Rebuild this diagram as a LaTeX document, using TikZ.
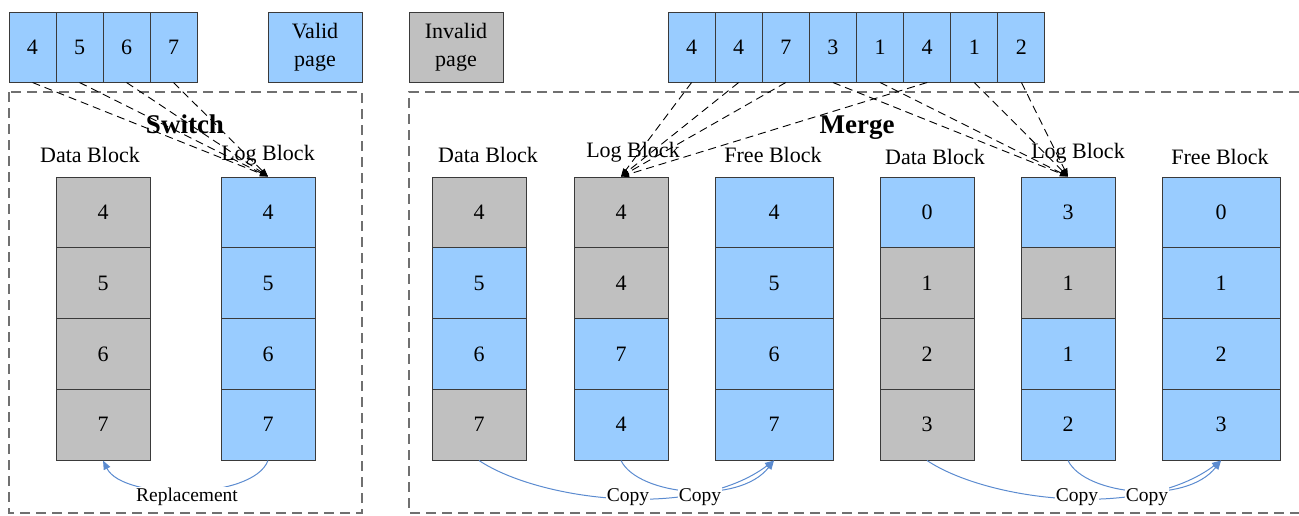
\documentclass[tikz,border=0pt]{standalone}
\usepackage{fontspec}
\setmainfont{Liberation Serif}
\usetikzlibrary{arrows.meta}
\definecolor{validblue}{HTML}{99CCFF}
\definecolor{invalidgray}{HTML}{C0C0C0}
\definecolor{cellline}{HTML}{3A3A3A}
\definecolor{framegray}{HTML}{707070}
\definecolor{copyblue}{HTML}{5B8BD0}
\begin{document}
\begin{tikzpicture}[x=1pt,y=-1pt,
  cell/.style={draw=cellline, line width=1pt, inner sep=0pt,
    minimum width=94pt, minimum height=70.75pt,
    font=\fontsize{22}{26}\selectfont},
  wide/.style={minimum width=118pt},
  pagecell/.style={cell, minimum width=47pt, minimum height=70pt, fill=validblue},
  legend/.style={cell, minimum height=70pt, align=center,
    font=\fontsize{22}{28}\selectfont},
  blocklabel/.style={font=\fontsize{22}{26}\selectfont, inner sep=1pt},
  title/.style={font=\fontsize{27}{30}\selectfont\bfseries, inner sep=1pt},
  frame/.style={draw=framegray, line width=1.4pt, dash pattern=on 10pt off 6pt},
  ptr/.style={draw=black, line width=0.9pt, dash pattern=on 8pt off 5pt,
    -{Triangle[length=8pt,width=6pt]}},
  copyline/.style={draw=copyblue, line width=1pt,
    -{Triangle[length=9pt,width=7pt]}},
  curveonly/.style={draw=copyblue, line width=1pt},
  tag/.style={font=\fontsize{19.5}{22}\selectfont, fill=white, inner sep=1pt}
]
\useasboundingbox (0,0) rectangle (1299,515);

% dashed frames of the two operations
\draw[frame] (9,92) rectangle (362,513);
\draw[frame] (1299,92) -- (409,92) -- (409,513) -- (1299,513);

% page sequences written to the log blocks
\foreach \v [count=\i] in {4,5,6,7}
  \node[pagecell] (s\i) at ({9+47*(\i-0.5)},47) {\v};
\foreach \v [count=\i] in {4,4,7,3,1,4,1,2}
  \node[pagecell] (m\i) at ({668+47.125*(\i-0.5)},47) {\v};

% legend
\node[legend, fill=validblue] (valid) at (315,47) {Valid\\page};
\node[legend, fill=invalidgray] (invalid) at (456,47) {Invalid\\page};

% titles and block labels
\node[title] (switch) at (185,124) {Switch};
\node[title] (merge) at (857,128) {Merge};
\node[blocklabel] (ldatal) at (90,155) {Data Block};
\node[blocklabel] (llogl) at (268,155) {Log Block};
\node[blocklabel] (adatal) at (488,155) {Data Block};
\node[blocklabel] (alogl) at (633,152) {Log Block};
\node[blocklabel] (afreel) at (773,155) {Free Block};
\node[blocklabel] (bdatal) at (935,157) {Data Block};
\node[blocklabel] (blogl) at (1078,153) {Log Block};
\node[blocklabel] (bfreel) at (1220,157) {Free Block};

% switch blocks
\foreach \v [count=\i] in {4,5,6,7}
  \node[cell, fill=invalidgray] (ld\i) at (103,{177+70.75*(\i-0.5)}) {\v};
\foreach \v [count=\i] in {4,5,6,7}
  \node[cell, fill=validblue] (ll\i) at (268,{177+70.75*(\i-0.5)}) {\v};

% first merge
\foreach \v/\c [count=\i] in {4/invalidgray,5/validblue,6/validblue,7/invalidgray}
  \node[cell, fill=\c] (ad\i) at (479,{177+70.75*(\i-0.5)}) {\v};
\foreach \v/\c [count=\i] in {4/invalidgray,4/invalidgray,7/validblue,4/validblue}
  \node[cell, fill=\c] (al\i) at (621,{177+70.75*(\i-0.5)}) {\v};
\foreach \v [count=\i] in {4,5,6,7}
  \node[cell, wide, fill=validblue] (af\i) at (774,{177+70.75*(\i-0.5)}) {\v};

% second merge
\foreach \v/\c [count=\i] in {0/validblue,1/invalidgray,2/invalidgray,3/invalidgray}
  \node[cell, fill=\c] (bd\i) at (927,{177+70.75*(\i-0.5)}) {\v};
\foreach \v/\c [count=\i] in {3/validblue,1/invalidgray,1/validblue,2/validblue}
  \node[cell, fill=\c] (bl\i) at (1068,{177+70.75*(\i-0.5)}) {\v};
\foreach \v [count=\i] in {0,1,2,3}
  \node[cell, wide, fill=validblue] (bf\i) at (1221,{177+70.75*(\i-0.5)}) {\v};

% writes into the log blocks
\foreach \s in {s1,s2,s3,s4}
  \draw[ptr] (\s.south) -- (ll1.north);
\foreach \s in {m1,m2,m3,m6}
  \draw[ptr] (\s.south) -- (al1.north);
\foreach \s in {m4,m5,m7,m8}
  \draw[ptr] (\s.south) -- (bl1.north);

% replacement and copy paths
\draw[copyline] (ll4.south) .. controls +(-15,40) and +(20,40) .. (ld4.south);
\draw[copyline] (ad4.south) .. controls +(60,40) and +(-80,60) .. (af4.south);
\draw[copyline] (al4.south) .. controls +(17,35) and +(-35,45) .. (af4.south);
\draw[copyline] (bd4.south) .. controls +(60,40) and +(-80,60) .. (bf4.south);
\draw[copyline] (bl4.south) .. controls +(17,35) and +(-35,45) .. (bf4.south);

\node[tag] (repl) at (187,497) {Replacement};
\node[tag] (copya1) at (628,497) {Copy};
\node[tag] (copya2) at (700,497) {Copy};
\node[tag] (copyb1) at (1077,497) {Copy};
\node[tag] (copyb2) at (1147,497) {Copy};
\end{tikzpicture}
\end{document}
